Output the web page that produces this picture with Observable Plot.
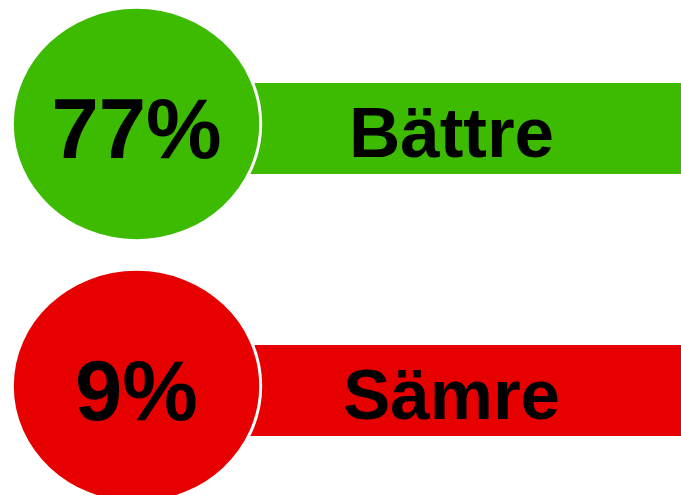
<!DOCTYPE html>
<html>
<head>
<meta charset="utf-8">
<script src="https://cdn.jsdelivr.net/npm/d3@7"></script>
<script src="https://cdn.jsdelivr.net/npm/@observablehq/plot@0.6"></script>
<style>
  html, body { margin: 0; padding: 0; background: #fff; }
  svg { display: block; }
</style>
</head>
<body>
<div id="chart"></div>
<script>
const categories = ["Bättre", "Sämre"];
const percents = [77, 9];
const colors = ["#3dbb00", "#e60000"];

const rows = categories.map((c, i) => ({label: c, pct: percents[i], color: colors[i]}));

// slightly elliptical symbol
const ellipse = {
  draw(context, size) {
    const r = Math.sqrt(size / Math.PI);
    const rx = r * 1.035, ry = r * 0.972, k = 0.5523;
    context.moveTo(rx, 0);
    context.bezierCurveTo(rx, ry * k, rx * k, ry, 0, ry);
    context.bezierCurveTo(-rx * k, ry, -rx, ry * k, -rx, 0);
    context.bezierCurveTo(-rx, -ry * k, -rx * k, -ry, 0, -ry);
    context.bezierCurveTo(rx * k, -ry, rx, -ry * k, rx, 0);
    context.closePath();
  }
};

const chart = Plot.plot({
  width: 681,
  height: 495,
  marginLeft: 248,
  marginRight: 0,
  marginTop: 0,
  marginBottom: 0,
  style: {background: "#fff"},
  x: {type: "point", domain: ["pct", "label"], range: [136, 451], padding: 0, axis: null},
  y: {type: "point", domain: categories, range: [127.5, 389.5], padding: 0, axis: null},
  color: {type: "identity"},
  marks: [
    Plot.ruleY(rows, {y: "label", stroke: "color", strokeWidth: 91}),
    Plot.dot(rows, {x: () => "pct", y: "label", r: 120, dy: -4.5, symbol: ellipse,
      fill: "color", stroke: "white", strokeWidth: 3}),
    Plot.text(rows, {x: () => "pct", y: "label", text: d => d.pct + "%", dy: 2.5,
      fontSize: 85, fontWeight: "bold", fontFamily: "Liberation Sans", fill: "black"}),
    Plot.text(rows, {x: () => "label", y: "label", text: "label", dy: 5.5,
      fontSize: 71, fontWeight: "bold", fontFamily: "Liberation Sans", fill: "black"})
  ]
});

document.getElementById("chart").appendChild(chart);
</script>
</body>
</html>
